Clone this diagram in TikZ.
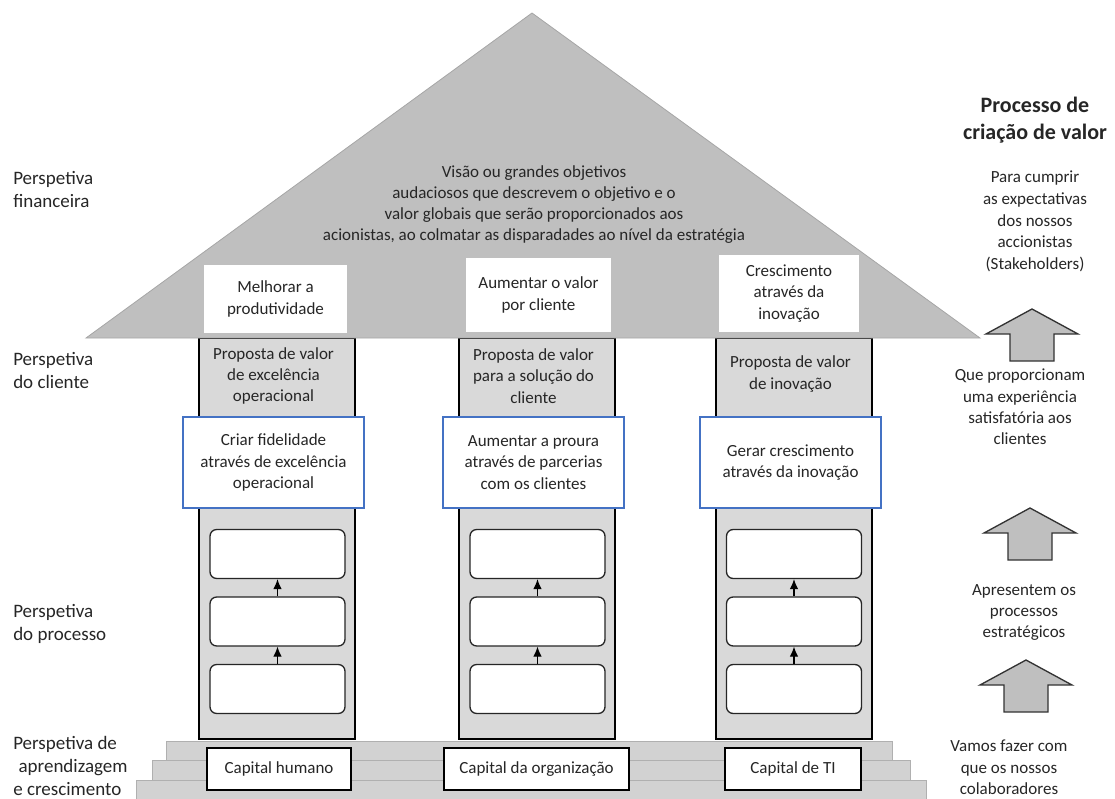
\documentclass[tikz,border=0pt]{standalone}
\usepackage{fontspec}
\setmainfont{Carlito}
\usetikzlibrary{arrows.meta}

\definecolor{roofgray}{HTML}{BFBFBF}
\definecolor{roofedge}{HTML}{A6A6A6}
\definecolor{pillargray}{HTML}{D9D9D9}
\definecolor{stepgray}{HTML}{D2D2D2}
\definecolor{stepedge}{HTML}{B0B0B0}
\definecolor{bluedge}{HTML}{4472C4}
\definecolor{arrowgray}{HTML}{BFBFBF}
\definecolor{ink}{HTML}{262626}

\begin{document}
\begin{tikzpicture}[x=0.75pt,y=-0.75pt,
  every node/.style={text=ink},
  body/.style={font=\fontsize{12.75}{15.9}\selectfont, align=center},
  sidelabel/.style={font=\fontsize{14.25}{17.25}\selectfont, align=left, anchor=west, inner sep=0pt},
  pillar/.style={fill=pillargray, draw=black, line width=0.9pt},
  roof/.style={fill=roofgray, draw=roofedge, line width=0.6pt},
  slab/.style={fill=stepgray, draw=stepedge, line width=0.7pt},
  goalbox/.style={body, fill=white, draw=none, inner sep=0pt},
  bluebox/.style={body, fill=white, draw=bluedge, line width=0.9pt,
    minimum width=135.75pt, minimum height=68.25pt, inner sep=0pt},
  procbox/.style={fill=white, draw=black!85, line width=1pt, rounded corners=5pt,
    minimum width=101.25pt, minimum height=36.75pt, inner sep=0pt},
  capbox/.style={body, fill=white, draw=black, line width=1pt,
    minimum height=31.5pt, inner sep=0pt},
  flow/.style={draw=black, line width=0.9pt, -{Latex[length=7.5pt,width=6.5pt]}},
  blockarrow/.style={fill=arrowgray, draw=black!80, line width=1pt, line join=miter}
]
\useasboundingbox (0,0) rectangle (1115,799);

% stepped base
\path[slab] (136,780) rectangle (926,799);
\path[slab] (152,760) rectangle (910,780);
\path[slab] (166,741) rectangle (892,760);

% the three pillars
\path[pillar] (199,338) rectangle (355,739);
\path[pillar] (459,338) rectangle (615,739);
\path[pillar] (716,338) rectangle (872,739);

% roof
\path[roof] (86,338) -- (532,13) -- (980,338) -- cycle;

\node[body] (vision) at (534,204.5)
  {Visão ou grandes objetivos\\
   audaciosos que descrevem o objetivo e o\\
   valor globais que serão proporcionados aos\\
   acionistas, ao colmatar as disparadades ao nível da estratégia};

% financial objectives inside the roof
\node[goalbox, minimum width=107.25pt, minimum height=51pt] (g1) at (275.5,299)
  {Melhorar a\\produtividade};
\node[goalbox, minimum width=108.75pt, minimum height=55.5pt] (g2) at (538.5,295)
  {Aumentar o valor\\por cliente};
\node[goalbox, minimum width=105pt, minimum height=57.75pt] (g3) at (789,293.5)
  {Crescimento\\através da\\inovação};

% value propositions at the top of each pillar
\node[body] (v1) at (273.5,376) {Proposta de valor\\de excelência\\operacional};
\node[body] (v2) at (533.5,376) {Proposta de valor\\para a solução do\\cliente};
\node[body] (v3) at (790.5,374) {Proposta de valor\\de inovação};

% customer objectives
\node[bluebox] (c1) at (273.5,462.5) {Criar fidelidade\\através de excelência\\operacional};
\node[bluebox] (c2) at (533.5,462.5) {Aumentar a proura\\através de parcerias\\com os clientes};
\node[bluebox] (c3) at (790.5,462.5) {Gerar crescimento\\através da inovação};

% internal process chains
\foreach \col/\cx in {1/277.5, 2/537.5, 3/794} {
  \node[procbox] (p\col a) at (\cx,554) {};
  \node[procbox] (p\col b) at (\cx,621.5) {};
  \node[procbox] (p\col c) at (\cx,689) {};
  \draw[flow] (p\col c.north) -- (p\col b.south);
  \draw[flow] (p\col b.north) -- (p\col a.south);
}

% learning and growth foundations
\node[capbox, minimum width=108pt] (k1) at (279,769) {Capital humano};
\node[capbox, minimum width=138.75pt] (k2) at (536.5,769) {Capital da organização};
\node[capbox, minimum width=102pt] (k3) at (793,769) {Capital de TI};

% perspective labels on the left
\node[sidelabel] (lf) at (13,190) {Perspetiva\\financeira};
\node[sidelabel] (lc) at (13,370.5) {Perspetiva\\do cliente};
\node[sidelabel] (lp) at (13,624) {Perspetiva\\do processo};
\node[sidelabel] (ll) at (13,765.5) {Perspetiva de\\\hspace*{0.28em}aprendizagem\\e crescimento};

% value creation column on the right
\node[font=\fontsize{16.5}{20.25}\selectfont\bfseries, align=center] (title) at (1035,120.5)
  {Processo de\\criação de valor};
\node[body, font=\fontsize{12.75}{16.3}\selectfont] (r1) at (1035,221.5)
  {Para cumprir\\as expectativas\\dos nossos\\accionistas\\(Stakeholders)};
\node[body, font=\fontsize{12.75}{16}\selectfont] (r2) at (1020,407)
  {Que proporcionam\\uma experiência\\satisfatória aos\\clientes};
\node[body, font=\fontsize{12.75}{16}\selectfont] (r3) at (1024,612.5)
  {Apresentem os\\processos\\estratégicos};
\node[body, font=\fontsize{12.75}{16}\selectfont] (r4) at (1009,767.5)
  {Vamos fazer com\\que os nossos\\colaboradores};

% block arrows between the value creation steps
\foreach \ax/\ay in {1032/309, 1030/508, 1026/660} {
  \path[blockarrow] (\ax,\ay) -- ++(46,25) -- ++(-24,0) -- ++(0,27) -- ++(-44,0)
    -- ++(0,-27) -- ++(-24,0) -- cycle;
}
\end{tikzpicture}
\end{document}
